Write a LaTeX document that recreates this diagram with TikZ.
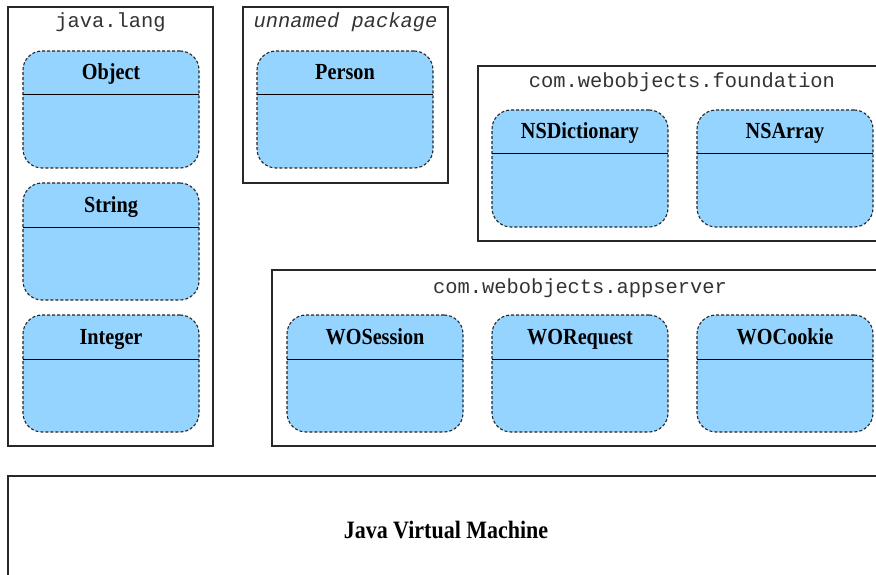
\documentclass[tikz,border=0pt]{standalone}
\usepackage{fontspec}
\setmainfont{Liberation Serif}
\setmonofont{Liberation Mono}
\newfontfamily\titlefont{Liberation Serif}[FakeStretch=0.88]
\definecolor{classfill}{RGB}{148,212,255}
\definecolor{pkgline}{RGB}{40,40,40}
\tikzset{
  pkgbox/.style={draw=pkgline, line width=1.2pt, fill=white, inner sep=0pt, outer sep=0pt,
                 anchor=north west},
  pkglabel/.style={anchor=base, inner sep=0pt, text=black!80, font=\ttfamily\fontsize{20.4}{24}\selectfont},
  classbox/.style={draw=black!85, dashed, dash pattern=on 3pt off 2pt, line width=1.1pt,
                   fill=classfill, rounded corners=19pt, minimum width=176pt, minimum height=117pt,
                   inner sep=0pt, outer sep=0pt, anchor=north west},
  ctitle/.style={anchor=base, inner sep=0pt, font=\titlefont\bfseries\fontsize{23}{26}\selectfont},
  divider/.style={draw=black, line width=1pt},
}
\newcommand{\classbox}[4]{%
  \node[classbox] (#1) at (#2,#3) {};
  \node[ctitle] (#1-t) at ([yshift=-29pt]#1.north) {#4};
  \draw[divider] ([yshift=-44pt]#1.north west) -- ([yshift=-44pt]#1.north east);
}
\begin{document}
\begin{tikzpicture}[x=1pt,y=-1pt]
\useasboundingbox (0,0) rectangle (876,575);
\clip (0,0) rectangle (876,575);
\fill[white] (0,0) rectangle (876,575);

% package: java.lang
\node[pkgbox, minimum width=205pt, minimum height=439pt] (jl) at (8,7) {};
\node[pkglabel] (jl-l) at ([yshift=-21pt]jl.north) {java.lang};
\classbox{object}{23}{51}{Object}
\classbox{string}{23}{183}{String}
\classbox{integer}{23}{315}{Integer}

% unnamed package
\node[pkgbox, minimum width=205pt, minimum height=176pt] (up) at (243,7) {};
\node[pkglabel, font=\ttfamily\itshape\fontsize{20.4}{24}\selectfont] (up-l) at ([yshift=-21pt]up.north) {unnamed package};
\classbox{person}{257}{51}{Person}

% package: com.webobjects.foundation
\node[pkgbox, minimum width=420pt, minimum height=175pt] (fd) at (478,66) {};
\node[pkglabel] (fd-l) at (682,88) {com.webobjects.foundation};
\classbox{nsdict}{492}{110}{NSDictionary}
\classbox{nsarray}{697}{110}{NSArray}

% package: com.webobjects.appserver
\node[pkgbox, minimum width=626pt, minimum height=176pt] (as) at (272,270) {};
\node[pkglabel] (as-l) at (580,293) {com.webobjects.appserver};
\classbox{wosession}{287}{315}{WOSession}
\classbox{worequest}{492}{315}{WORequest}
\classbox{wocookie}{697}{315}{WOCookie}

% runtime
\node[pkgbox, line width=1.6pt, minimum width=900pt, minimum height=130pt] (jvm) at (8,476) {};
\node[anchor=base, inner sep=0pt, font=\titlefont\bfseries\fontsize{25}{28}\selectfont] (jvm-l) at (446,538) {Java Virtual Machine};
\end{tikzpicture}
\end{document}
